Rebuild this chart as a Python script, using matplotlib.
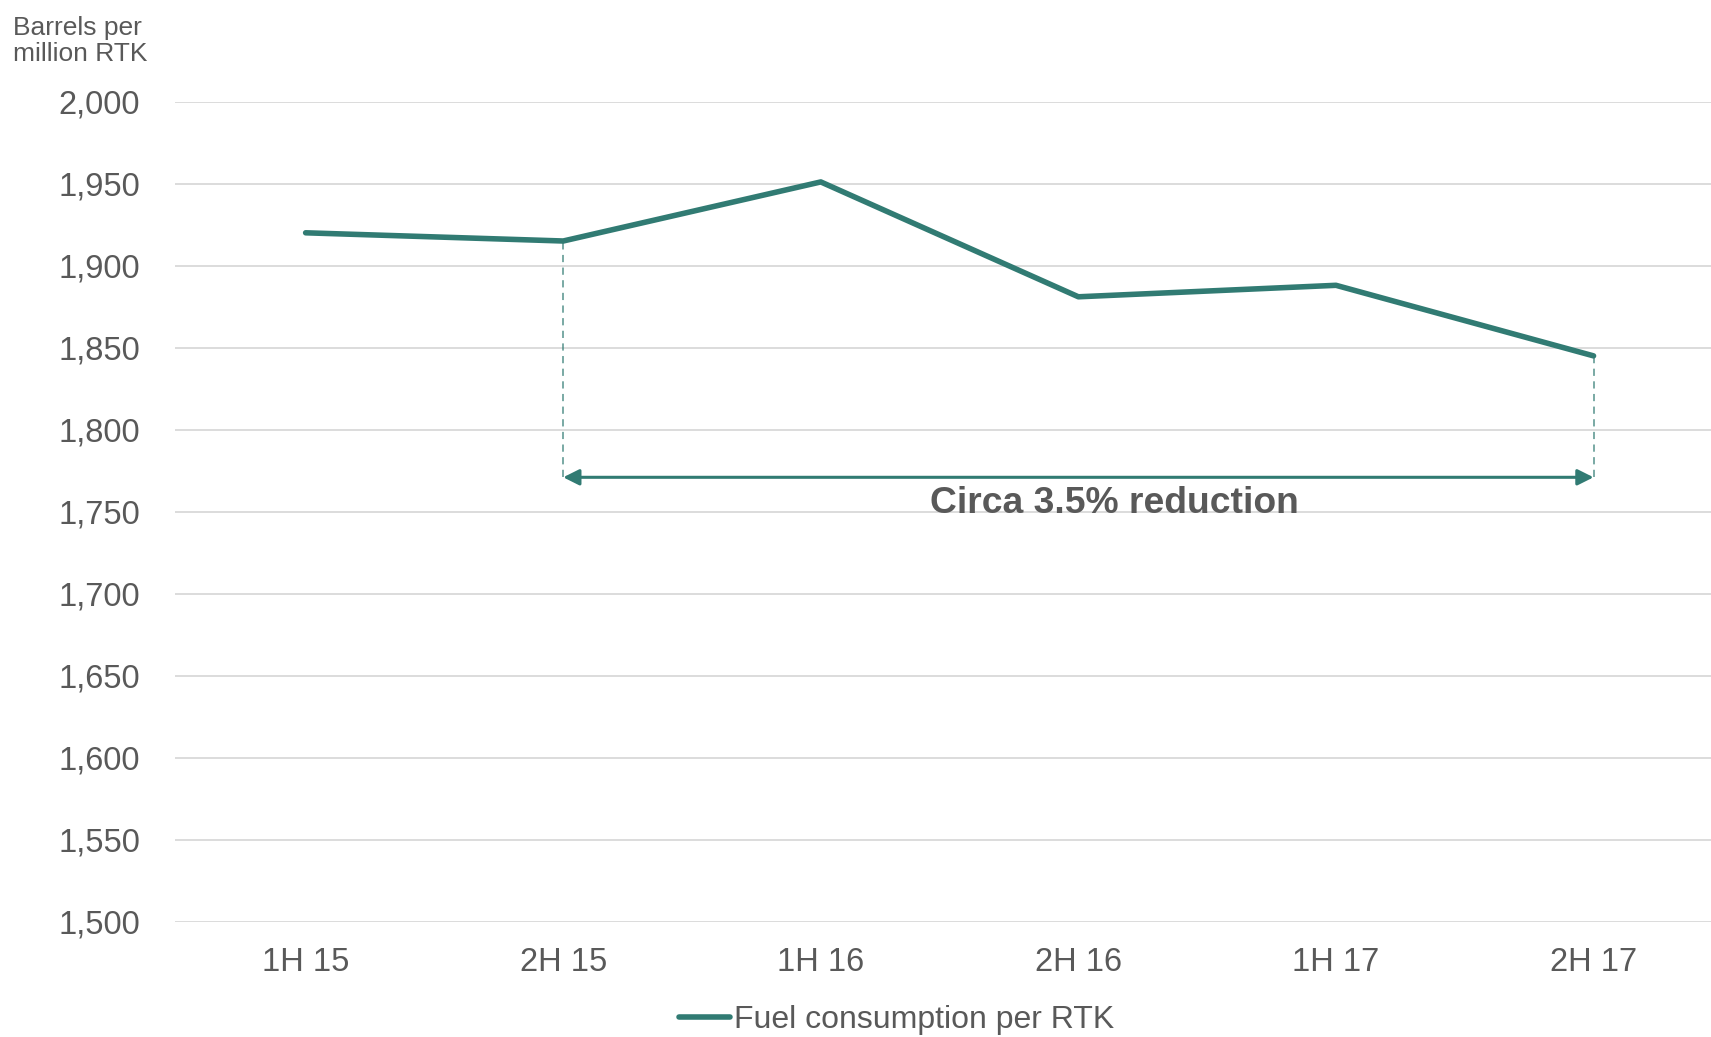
import matplotlib.pyplot as plt
from matplotlib.ticker import FuncFormatter

plt.rcParams['font.family'] = ['Liberation Sans', 'DejaVu Sans']

# data
periods = ['1H 15', '2H 15', '1H 16', '2H 16', '1H 17', '2H 17']
fuel = [1920, 1915, 1951, 1881, 1888, 1845]
arrow_level = 1771
note = 'Circa 3.5% reduction'

teal = '#317B73'
grey = '#595959'

fig = plt.figure(figsize=(17.11, 10.37), dpi=100)
ax = fig.add_axes([0.1023, 0.1109, 0.8977, 0.7912])

x = list(range(len(periods)))
ax.plot(x, fuel, color=teal, lw=4.0, solid_capstyle='round',
        label='Fuel consumption per RTK', zorder=3)

# dashed drop lines from 2H 15 and 2H 17 to the arrow
for i in (1, 5):
    ax.plot([i, i], [arrow_level, fuel[i]], color=teal, lw=1.3,
            ls=(0, (4, 3)), alpha=0.7, zorder=2)

ax.annotate('', xy=(1, arrow_level), xytext=(5, arrow_level),
            arrowprops=dict(arrowstyle='<|-|>', color=teal, lw=2.2,
                            mutation_scale=24, shrinkA=0, shrinkB=0))
ax.text(3.14, 1755, note, ha='center', va='center', fontsize=26.8,
        fontweight='bold', color=grey)

ax.set_ylim(1500, 2000)
ax.set_yticks(range(1500, 2001, 50))
ax.yaxis.set_major_formatter(FuncFormatter(lambda v, p: f'{int(v):,}'))
ax.set_xlim(-0.507, 5.456)
ax.set_xticks(x)
ax.set_xticklabels(periods)

ax.grid(axis='y', color='#d9d9d9', lw=1.3)
ax.set_axisbelow(True)
for s in ax.spines.values():
    s.set_visible(False)
ax.tick_params(axis='both', length=0, labelsize=23.5, labelcolor=grey)
ax.tick_params(axis='y', pad=25)
ax.tick_params(axis='x', pad=18)

fig.text(0.0076, 0.985, 'Barrels per\nmillion RTK', ha='left', va='top',
         fontsize=19, color=grey, linespacing=1.15)

ax.legend(loc='center', bbox_to_anchor=(0.524, 1 - 1020 / 1037),
          bbox_transform=fig.transFigure, frameon=False, fontsize=23,
          labelcolor=grey, handlelength=1.6, handletextpad=0.1)

fig.savefig('out.png', dpi=100)
